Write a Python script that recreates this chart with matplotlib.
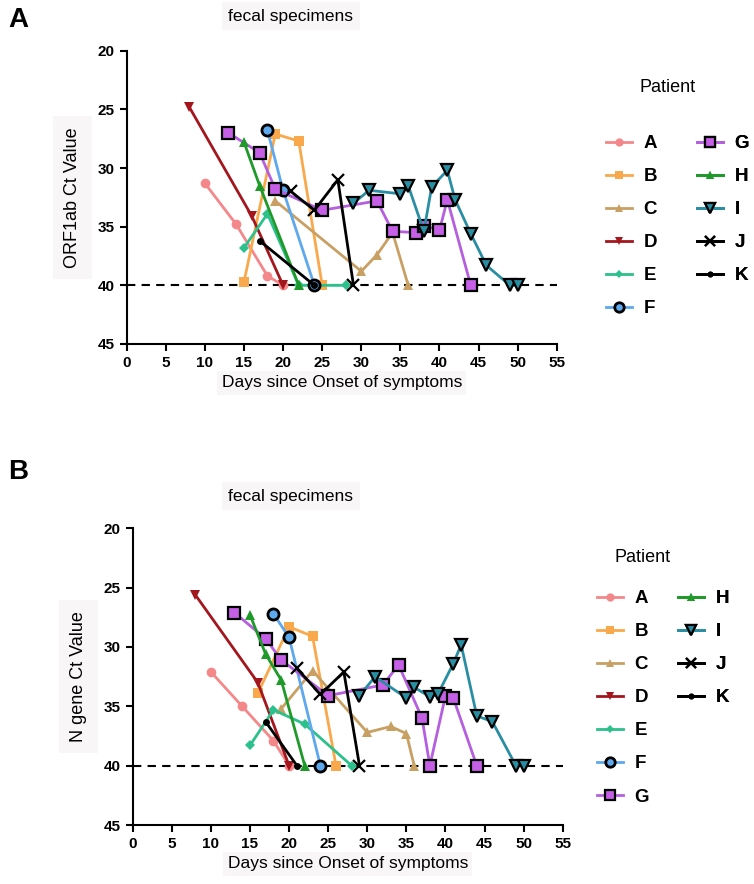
import matplotlib
matplotlib.use('Agg')
import matplotlib.pyplot as plt
from matplotlib.lines import Line2D

plt.rcParams['font.family'] = ['Liberation Sans', 'DejaVu Sans']

# ---- data: ORF1ab panel ----
A_orf_days = [10, 14, 18, 20]
A_orf_ct = [31.3, 34.8, 39.2, 40]
B_orf_days = [15, 19, 22, 25]
B_orf_ct = [39.7, 27.1, 27.7, 40]
C_orf_days = [19, 30, 32, 34, 36]
C_orf_ct = [32.8, 38.8, 37.4, 35.5, 40]
D_orf_days = [8, 16, 20]
D_orf_ct = [24.8, 34.1, 40]
E_orf_days = [15, 18, 22, 28]
E_orf_ct = [36.8, 33.9, 40, 40]
F_orf_days = [18, 20, 24]
F_orf_ct = [26.8, 31.9, 40]
G_orf_days = [13, 17, 19, 25, 32, 34, 37, 38, 40, 41, 44]
G_orf_ct = [27.0, 28.7, 31.8, 33.6, 32.8, 35.4, 35.5, 34.9, 35.3, 32.7, 40]
H_orf_days = [15, 17, 22]
H_orf_ct = [27.8, 31.5, 40]
I_orf_days = [29, 31, 35, 36, 38, 39, 41, 42, 44, 46, 49, 50]
I_orf_ct = [33.0, 31.9, 32.2, 31.5, 35.4, 31.6, 30.2, 32.7, 35.6, 38.3, 40, 40]
J_orf_days = [21, 24, 27, 29]
J_orf_ct = [32.0, 33.6, 31.0, 40]
K_orf_days = [17, 24]
K_orf_ct = [36.2, 40]

# ---- data: N gene panel ----
A_n_days = [10, 14, 18, 20]
A_n_ct = [32.1, 35.0, 37.9, 40]
B_n_days = [16, 20, 23, 26]
B_n_ct = [33.9, 28.3, 29.1, 40]
C_n_days = [19, 23, 30, 33, 35, 36]
C_n_ct = [35.2, 32.0, 37.2, 36.7, 37.3, 40]
D_n_days = [8, 16, 20]
D_n_ct = [25.6, 33.0, 40]
E_n_days = [15, 18, 22, 28]
E_n_ct = [38.3, 35.3, 36.5, 40]
F_n_days = [18, 20, 24]
F_n_ct = [27.2, 29.2, 40]
G_n_days = [13, 17, 19, 25, 32, 34, 37, 38, 40, 41, 44]
G_n_ct = [27.1, 29.3, 31.1, 34.1, 33.2, 31.5, 36.0, 40, 34.1, 34.3, 40]
H_n_days = [15, 17, 19, 22]
H_n_ct = [27.3, 30.6, 32.8, 40]
I_n_days = [29, 31, 35, 36, 38, 39, 41, 42, 44, 46, 49, 50]
I_n_ct = [34.1, 32.5, 34.3, 33.4, 34.2, 34.0, 31.4, 29.8, 35.8, 36.3, 40, 40]
J_n_days = [21, 24, 27, 29]
J_n_ct = [31.8, 34.0, 32.1, 40]
K_n_days = [17, 21]
K_n_ct = [36.3, 40]

patients = ['A', 'B', 'C', 'D', 'E', 'F', 'G', 'H', 'I', 'J', 'K']
orf_data = {'A': (A_orf_days, A_orf_ct), 'B': (B_orf_days, B_orf_ct), 'C': (C_orf_days, C_orf_ct),
            'D': (D_orf_days, D_orf_ct), 'E': (E_orf_days, E_orf_ct), 'F': (F_orf_days, F_orf_ct),
            'G': (G_orf_days, G_orf_ct), 'H': (H_orf_days, H_orf_ct), 'I': (I_orf_days, I_orf_ct),
            'J': (J_orf_days, J_orf_ct), 'K': (K_orf_days, K_orf_ct)}
n_data = {'A': (A_n_days, A_n_ct), 'B': (B_n_days, B_n_ct), 'C': (C_n_days, C_n_ct),
          'D': (D_n_days, D_n_ct), 'E': (E_n_days, E_n_ct), 'F': (F_n_days, F_n_ct),
          'G': (G_n_days, G_n_ct), 'H': (H_n_days, H_n_ct), 'I': (I_n_days, I_n_ct),
          'J': (J_n_days, J_n_ct), 'K': (K_n_days, K_n_ct)}

# line colour, marker, marker size, face colour, edge colour, edge width
styles = {
    'A': ('#f4878a', 'o', 7, '#f4878a', '#f4878a', 0),
    'B': ('#f9a94b', 's', 6.5, '#f9a94b', '#f9a94b', 0),
    'C': ('#c9a063', '^', 7, '#c9a063', '#c9a063', 0),
    'D': ('#a3161d', 'v', 7, '#a3161d', '#a3161d', 0),
    'E': ('#2cc08c', 'D', 5, '#2cc08c', '#2cc08c', 0),
    'F': ('#5ea8ee', 'o', 8, '#5ea8ee', 'black', 2),
    'G': ('#b55fe0', 's', 8.5, '#c45fe6', 'black', 1.6),
    'H': ('#1f9a2a', '^', 7, '#1f9a2a', '#1f9a2a', 0),
    'I': ('#2a8ea3', 'v', 9, '#2a8ea3', 'black', 1.6),
    'J': ('black', 'x', 8, 'black', 'black', 1.6),
    'K': ('black', 'o', 5, 'black', 'black', 0),
}

W, H = 754, 884
fig = plt.figure(figsize=(W / 100, H / 100), dpi=100)


def rect(x0, ytop, x1, ybot):
    return [x0 / W, 1 - ybot / H, (x1 - x0) / W, (ybot - ytop) / H]


def make_handle(p):
    lc, m, ms, fc, ec, ew = styles[p]
    return Line2D([], [], color=lc, marker=m, markersize=ms * 0.85, markerfacecolor=fc,
                  markeredgecolor=ec, markeredgewidth=ew, linewidth=2)


def panel(axrect, data, ylabel, letter, letter_y, title_y, patient_xy, cols, col_pos):
    ax = fig.add_axes(rect(*axrect))
    for p in patients:
        lc, m, ms, fc, ec, ew = styles[p]
        x, y = data[p]
        ax.plot(x, y, color=lc, linewidth=2, marker=m, markersize=ms,
                markerfacecolor=fc, markeredgecolor=ec, markeredgewidth=ew, label=p)
    ax.axhline(40, color='black', linestyle='--', linewidth=1.5, dashes=(4, 3), zorder=0)
    ax.set_xlim(0, 55)
    ax.set_ylim(45, 20)
    ax.set_xticks(range(0, 56, 5))
    ax.set_yticks(range(20, 46, 5))
    ax.spines['top'].set_visible(False)
    ax.spines['right'].set_visible(False)
    ax.spines['left'].set_linewidth(1.5)
    ax.spines['bottom'].set_linewidth(1.5)
    ax.tick_params(width=1.5, length=5, labelsize=11)
    for lab in ax.get_xticklabels() + ax.get_yticklabels():
        lab.set_fontweight('bold')
    ax.set_xlabel('Days since Onset of symptoms', fontsize=12.5, labelpad=4,
                  bbox=dict(facecolor='#f8f6f6', edgecolor='none', pad=3))
    ax.set_ylabel(ylabel, fontsize=13, labelpad=12,
                  bbox=dict(facecolor='#f8f6f6', edgecolor='none', pad=8))
    fig.text(8 / W, 1 - letter_y / H, letter, fontsize=20, fontweight='bold', va='center')
    fig.text(291 / W, 1 - title_y / H, 'fecal specimens', fontsize=12.5, ha='center', va='center',
             bbox=dict(facecolor='#f8f6f6', edgecolor='none', pad=5))
    fig.text(patient_xy[0] / W, 1 - patient_xy[1] / H, 'Patient', fontsize=13,
             ha='center', va='center')
    for names, (lx, ly) in zip(cols, col_pos):
        leg = ax.legend(handles=[make_handle(p) for p in names], labels=names,
                        loc='upper left', bbox_to_anchor=(lx / W, 1 - ly / H),
                        bbox_transform=fig.transFigure, frameon=False, borderpad=0,
                        borderaxespad=0, handlelength=1.4, handletextpad=0.6,
                        labelspacing=0.85, prop={'weight': 'bold', 'size': 13.5})
        ax.add_artist(leg)
    return ax


panel((126.7, 50.7, 556.8, 344), orf_data, 'ORF1ab Ct Value', 'A', 20, 16, (668, 88),
      [patients[:6], patients[6:]], [(606, 135), (697, 135)])
panel((132.7, 528.3, 562.8, 825), n_data, 'N gene Ct Value', 'B', 472, 496, (643, 558),
      [patients[:7], patients[7:]], [(597, 590), (678, 590)])

fig.savefig('out.png', dpi=100)
